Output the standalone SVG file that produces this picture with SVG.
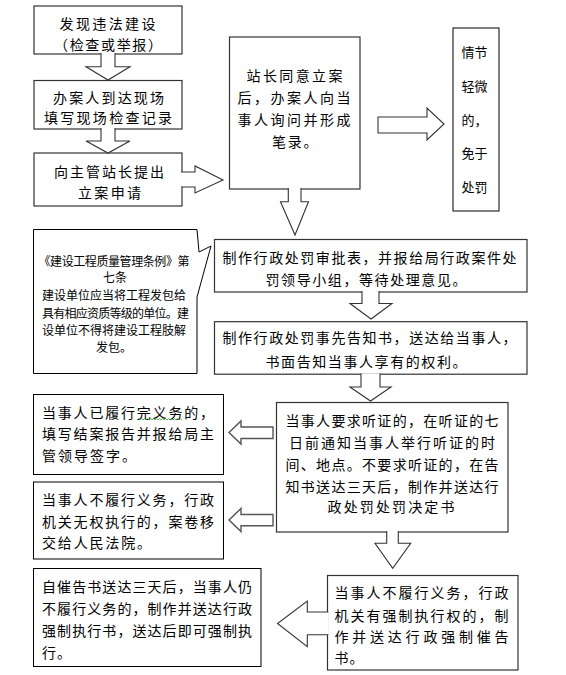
<svg xmlns="http://www.w3.org/2000/svg" width="566" height="675" viewBox="0 0 566 675">
<style>
text{font-family:"Noto Sans CJK SC","Noto Sans",sans-serif;font-size:14px;fill:#000}
.s{font-size:12px}
.v{font-size:13px}
.b1{fill:#fff;stroke:#333;stroke-width:1.2}
.b2{fill:#fff;stroke:#000;stroke-width:1}
.ar{fill:#fff;stroke:#333;stroke-width:1.1;stroke-linejoin:miter}
.ar2{fill:#fff;stroke:#555;stroke-width:1.4}
</style>
<rect width="566" height="675" fill="#fff"/>
<g id="n1"><rect class="b1" x="34" y="6" width="148" height="48"/>
<text x="59.5" y="29" textLength="96" lengthAdjust="spacing">发现违法建设</text>
<text x="54" y="50" textLength="108" lengthAdjust="spacing">（检查或举报）</text></g>
<g id="n2"><rect class="b1" x="34" y="80.5" width="148" height="48.5"/>
<text x="53" y="103" textLength="111" lengthAdjust="spacing">办案人到达现场</text>
<text x="44" y="123" textLength="128" lengthAdjust="spacing">填写现场检查记录</text></g>
<g id="n3"><rect class="b1" x="34" y="153" width="148" height="53"/>
<text x="54" y="177" textLength="110" lengthAdjust="spacing">向主管站长提出</text>
<text x="78" y="198" textLength="63" lengthAdjust="spacing">立案申请</text></g>
<g id="n4"><rect class="b1" x="229.5" y="37" width="130.5" height="152"/>
<text x="246.5" y="81" textLength="96" lengthAdjust="spacing">站长同意立案</text>
<text x="237.5" y="103" textLength="113" lengthAdjust="spacing">后，办案人向当</text>
<text x="237.5" y="125" textLength="113" lengthAdjust="spacing">事人询问并形成</text>
<text x="272" y="147" letter-spacing="1.7">笔录。</text></g>
<g id="n5"><rect class="b2" x="453" y="28" width="46" height="183"/>
<text class="v" x="461.5" y="57">情节</text>
<text class="v" x="461.5" y="91">轻微</text>
<text class="v" x="461.5" y="125">的，</text>
<text class="v" x="461.5" y="158">免于</text>
<text class="v" x="461.5" y="192">处罚</text></g>
<g id="n6"><path class="b2" d="M33.5,229.5 H197 L199,252 L211,246 L197,297 V373.5 H33.5 Z"/>
<text class="s" x="38.5" y="266" textLength="151" lengthAdjust="spacing">《建设工程质量管理条例》第</text>
<text class="s" x="115" y="282" text-anchor="middle">七条</text>
<text class="s" x="42" y="300" textLength="144" lengthAdjust="spacing">建设单位应当将工程发包给</text>
<text class="s" x="42" y="317.5" textLength="147" lengthAdjust="spacing">具有相应资质等级的单位。建</text>
<text class="s" x="42" y="335" textLength="144" lengthAdjust="spacing">设单位不得将建设工程肢解</text>
<text class="s" x="96" y="351.5">发包。</text></g>
<g id="n7"><rect class="b1" x="214.5" y="239.5" width="312.5" height="52.5"/>
<text x="222.5" y="263" textLength="294" lengthAdjust="spacing">制作行政处罚审批表，并报给局行政案件处</text>
<text x="265.5" y="285" textLength="201" lengthAdjust="spacing">罚领导小组，等待处理意见。</text></g>
<g id="n8"><rect class="b1" x="214.5" y="321.7" width="312.5" height="52.5"/>
<text x="222.5" y="343" textLength="294" lengthAdjust="spacing">制作行政处罚事先告知书，送达给当事人，</text>
<text x="265.5" y="366.5" textLength="201" lengthAdjust="spacing">书面告知当事人享有的权利。</text></g>
<g id="n9"><rect class="b1" x="276.5" y="402.5" width="231.5" height="129.5"/>
<text x="285.5" y="425.7" textLength="213" lengthAdjust="spacing">当事人要求听证的，在听证的七</text>
<text x="289" y="447.7" textLength="206" lengthAdjust="spacing">日前通知当事人举行听证的时</text>
<text x="285.5" y="470" textLength="213" lengthAdjust="spacing">间、地点。不要求听证的，在告</text>
<text x="285.5" y="491.7" textLength="213" lengthAdjust="spacing">知书送达三天后，制作并送达行</text>
<text x="327.5" y="512.3" textLength="127" lengthAdjust="spacing">政处罚处罚决定书</text></g>
<g id="n10"><rect class="b2" x="33.5" y="394.5" width="190" height="80"/>
<text x="42" y="418.3" textLength="172" lengthAdjust="spacing">当事人已履行完义务的，</text>
<path d="M137,420 l1.5,-1.5 l1.5,1.5 l1.5,-1.5 l1.5,1.5 l1.5,-1.5 l1.5,1.5 l1.5,-1.5 l1.5,1.5 l1.5,-1.5 l1.5,1.5 l1.5,-1.5 l1.5,1.5 l1.5,-1.5 l1.5,1.5 l1.5,-1.5 l1.5,1.5 l1.5,-1.5 l1.5,1.5 l1.5,-1.5 l1.5,1.5 l1.5,-1.5 l1.5,1.5 l1.5,-1.5 l1.5,1.5 l1.5,-1.5 l1.5,1.5 l1.5,-1.5 l1.5,1.5 l1.5,-1.5 l1.5,1.5" fill="none" stroke="#3a9a3a" stroke-width="0.8"/>
<text x="42" y="439.3" textLength="172" lengthAdjust="spacing">填写结案报告并报给局主</text>
<text x="42" y="461" textLength="94" lengthAdjust="spacing">管领导签字。</text></g>
<g id="n11"><rect class="b2" x="33.5" y="482" width="190" height="77"/>
<text x="42" y="505" textLength="172" lengthAdjust="spacing">当事人不履行义务，行政</text>
<text x="42" y="526.7" textLength="172" lengthAdjust="spacing">机关无权执行的，案卷移</text>
<text x="42" y="548.3" textLength="109" lengthAdjust="spacing">交给人民法院。</text></g>
<g id="n12"><rect class="b2" x="33.5" y="568.5" width="227.5" height="98"/>
<text x="42" y="591.7" textLength="210" lengthAdjust="spacing">自催告书送达三天后，当事人仍</text>
<text x="42" y="613.5" textLength="210" lengthAdjust="spacing">不履行义务的，制作并送达行政</text>
<text x="42" y="635.5" textLength="210" lengthAdjust="spacing">强制执行书，送达后即可强制执</text>
<text x="42" y="657.5" letter-spacing="1">行。</text></g>
<g id="n13"><rect class="b1" x="327.5" y="575.5" width="190.5" height="94.5"/>
<text x="334.5" y="598.3" textLength="174" lengthAdjust="spacing">当事人不履行义务，行政</text>
<text x="334.5" y="621" textLength="174" lengthAdjust="spacing">机关有强制执行权的，制</text>
<text x="334.5" y="642.3" textLength="174" lengthAdjust="spacing">作并送达行政强制催告</text>
<text x="334.5" y="663.3" letter-spacing="1">书。</text></g>
<g id="connectors">
<path class="ar" d="M101,53 V66.7 H86 L108,80 L130,66.7 H115 V53"/>
<path class="ar" d="M101,128 V141 H86 L108,153 L130,141 H115 V128"/>
<path class="ar" d="M181,172 H195 V166 L223,180 L195,193 V187 H181"/>
<path class="ar" d="M288.3,188 V201.7 H280.5 L295,235 L308.5,201.7 H301 V188"/>
<path class="ar" d="M378,117 H427 V108 L444,124 L427,140 V133 H378 Z"/>
<path class="ar" d="M362,291 V303.5 H350 L371,319 L392,303.5 H379 V291"/>
<path class="ar" d="M361,373.5 V387 H350 L370.5,401 L391,387 H380 V373.5"/>
<path class="ar2" d="M273,427 H241 V421 L229,432.5 L241,444 V438.5 H273 Z"/>
<path class="ar2" d="M273,514.5 H241 V508.5 L229,520 L241,531.5 V525.7 H273 Z"/>
<path class="ar" d="M386.7,531 V543.3 H375 L392.7,568.3 L410.7,543.3 H398.3 V531"/>
<path class="ar" d="M328.3,612 H307.3 V601 L277.5,623.5 L307.3,646.7 V634.7 H328.3"/>
</g>
</svg>
